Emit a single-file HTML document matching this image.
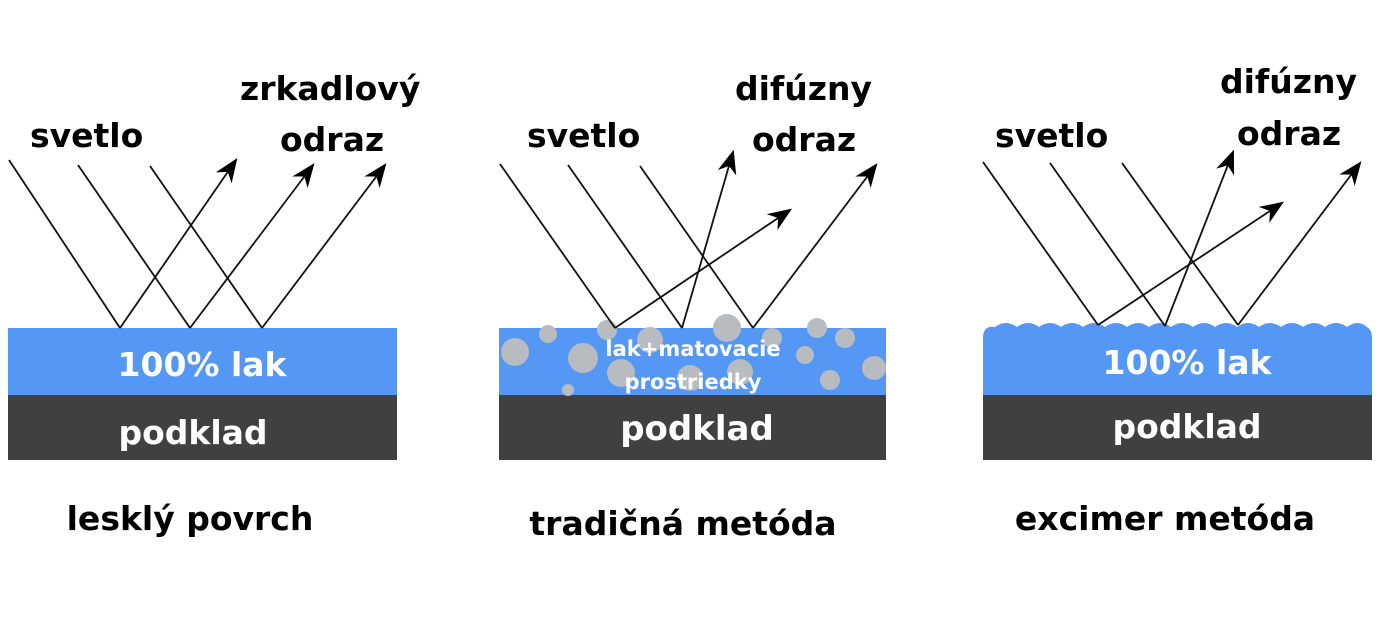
<!DOCTYPE html>
<html><head><meta charset="utf-8"><style>
html,body{margin:0;padding:0;background:#fff;}
svg{display:block;}
text{font-family:"DejaVu Sans","Liberation Sans",sans-serif;font-weight:bold;}
</style></head><body>
<svg width="1387" height="638" viewBox="0 0 1387 638" xmlns="http://www.w3.org/2000/svg">
<defs>
<marker id="b" viewBox="0 0 10 10" refX="9" refY="5" markerWidth="24" markerHeight="24" markerUnits="userSpaceOnUse" orient="auto">
<path d="M0,1 L10,5 L0,9 L3,5 Z" fill="#000"/>
</marker>
</defs>
<rect width="1387" height="638" fill="#fff"/>

<!-- Panel 1 -->
<rect x="8" y="328" width="389" height="67" fill="#5597f5"/>
<rect x="8" y="395" width="389" height="65" fill="#404042"/>
<text x="202" y="376" fill="#fff" font-size="33" text-anchor="middle">100% lak</text>
<text x="193" y="444" fill="#fff" font-size="33" text-anchor="middle">podklad</text>
<g stroke="#111" stroke-width="1.8" fill="none">
<line x1="9" y1="160" x2="120" y2="328"/>
<line x1="78" y1="165" x2="190" y2="328"/>
<line x1="150" y1="166" x2="262" y2="328"/>
<line x1="120" y1="328" x2="236" y2="160" marker-end="url(#b)"/>
<line x1="190" y1="328" x2="313" y2="165" marker-end="url(#b)"/>
<line x1="262" y1="328" x2="385" y2="165" marker-end="url(#b)"/>
</g>
<text x="30" y="147" font-size="33">svetlo</text>
<text x="240" y="100" font-size="33">zrkadlový</text>
<text x="280" y="151" font-size="33">odraz</text>
<text x="190" y="530" font-size="33" text-anchor="middle">lesklý povrch</text>

<!-- Panel 2 -->
<rect x="499" y="328" width="387" height="67" fill="#5597f5"/>
<rect x="499" y="395" width="387" height="65" fill="#404042"/>
<g fill="#b8bbc0">
<circle cx="515" cy="352" r="14"/><circle cx="548" cy="334" r="9"/><circle cx="583" cy="358" r="15"/>
<circle cx="607" cy="330" r="10"/><circle cx="621" cy="373" r="14"/><circle cx="650" cy="340" r="13"/>
<circle cx="690" cy="378" r="13"/><circle cx="727" cy="328" r="14"/><circle cx="740" cy="372" r="13"/>
<circle cx="772" cy="338" r="10"/><circle cx="805" cy="355" r="9"/><circle cx="817" cy="328" r="10"/>
<circle cx="845" cy="338" r="10"/><circle cx="830" cy="380" r="10"/><circle cx="874" cy="368" r="12"/>
<circle cx="568" cy="390" r="6"/>
</g>
<text x="693" y="356" fill="#fff" font-size="21" text-anchor="middle">lak+matovacie</text>
<text x="693" y="389" fill="#fff" font-size="21" text-anchor="middle">prostriedky</text>
<text x="697" y="440" fill="#fff" font-size="34" text-anchor="middle">podklad</text>
<g stroke="#111" stroke-width="1.8" fill="none">
<line x1="500" y1="164" x2="615" y2="328"/>
<line x1="568" y1="165" x2="682" y2="328"/>
<line x1="640" y1="166" x2="753" y2="328"/>
<line x1="615" y1="328" x2="790" y2="210" marker-end="url(#b)"/>
<line x1="682" y1="328" x2="733" y2="152" marker-end="url(#b)"/>
<line x1="753" y1="328" x2="876" y2="165" marker-end="url(#b)"/>
</g>
<text x="527" y="147" font-size="33">svetlo</text>
<text x="735" y="100" font-size="33">difúzny</text>
<text x="752" y="151" font-size="33">odraz</text>
<text x="683" y="535" font-size="33" text-anchor="middle">tradičná metóda</text>

<!-- Panel 3 -->
<path d="M983,395 L983,338 Q983,325 995,327 Q1006,319 1017,327 Q1028,319 1039,327 Q1050,319 1061,327 Q1072,319 1083,327 Q1094,319 1105,327 Q1116,319 1127,327 Q1138,319 1149,327 Q1160,319 1171,327 Q1182,319 1193,327 Q1204,319 1215,327 Q1226,319 1237,327 Q1248,319 1259,327 Q1270,319 1281,327 Q1292,319 1303,327 Q1314,319 1325,327 Q1336,319 1347,327 Q1358,319 1367,327 Q1372,330 1372,338 L1372,395 Z" fill="#5597f5"/>
<rect x="983" y="395" width="389" height="65" fill="#404042"/>
<text x="1187" y="374" fill="#fff" font-size="33" text-anchor="middle">100% lak</text>
<text x="1187" y="438" fill="#fff" font-size="33" text-anchor="middle">podklad</text>
<g stroke="#111" stroke-width="1.8" fill="none">
<line x1="983" y1="162" x2="1098" y2="325"/>
<line x1="1050" y1="163" x2="1165" y2="326"/>
<line x1="1122" y1="163" x2="1238" y2="325"/>
<line x1="1098" y1="325" x2="1282" y2="203" marker-end="url(#b)"/>
<line x1="1165" y1="326" x2="1233" y2="152" marker-end="url(#b)"/>
<line x1="1238" y1="325" x2="1360" y2="163" marker-end="url(#b)"/>
</g>
<text x="995" y="147" font-size="33">svetlo</text>
<text x="1220" y="93" font-size="33">difúzny</text>
<text x="1237" y="145" font-size="33">odraz</text>
<text x="1165" y="530" font-size="33" text-anchor="middle">excimer metóda</text>
</svg>
</body></html>
